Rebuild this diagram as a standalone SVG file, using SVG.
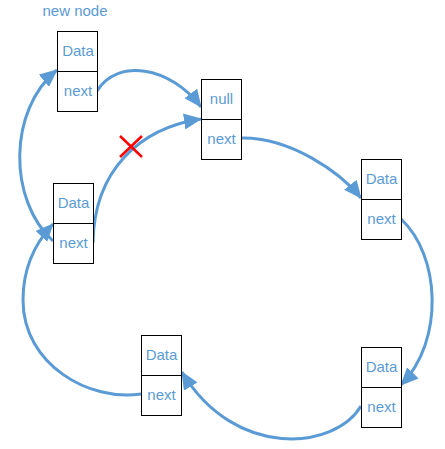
<svg xmlns="http://www.w3.org/2000/svg" width="445" height="449" viewBox="0 0 445 449">
<style>
.box{fill:#fff;stroke:#000;stroke-width:1}
.t{font-family:"Liberation Sans",Arial,sans-serif;font-size:15px;fill:#5B9BD5;text-anchor:middle}
.c{fill:none;stroke:#5B9BD5;stroke-width:3;marker-end:url(#ah)}
</style>
<defs>
<marker id="ah" markerUnits="userSpaceOnUse" markerWidth="18" markerHeight="16" viewBox="0 0 18 16" refX="17" refY="8" orient="auto">
<path d="M0,0 L18,8 L0,16 z" fill="#5B9BD5"/>
</marker>
</defs>
<rect width="445" height="449" fill="#fff"/>
<text class="t" x="75" y="16">new node</text>
<g id="connectors">
<path class="c" d="M97,91 C117,58 170,66 201,107"/>
<path class="c" d="M93,243 C94,170 140,128 201,119"/>
<path class="c" d="M241,138 C290,137 340,172 361,198"/>
<path class="c" d="M401,219 C440,255 445,340 401,385"/>
<path class="c" d="M361,406 C335,450 235,460 182,372"/>
<path class="c" d="M141,394 C90,402 23,365 23,300 C23,265 38,240 53,224"/>
<path class="c" d="M53,241 C8,200 8,110 57,70"/>
</g>
<g id="cross" stroke="#FF0000" stroke-width="2.5">
<line x1="120" y1="136" x2="142" y2="157"/>
<line x1="142" y1="136" x2="120" y2="157"/>
</g>
<g id="nodeA">
<rect class="box" x="57.5" y="31.5" width="40" height="40"/>
<rect class="box" x="57.5" y="71.5" width="40" height="40"/>
<text class="t" x="78" y="56">Data</text>
<text class="t" x="78" y="96">next</text>
</g>
<g id="nodeB">
<rect class="box" x="201.5" y="79.5" width="40" height="40"/>
<rect class="box" x="201.5" y="119.5" width="40" height="40"/>
<text class="t" x="221.5" y="104">null</text>
<text class="t" x="221.5" y="144">next</text>
</g>
<g id="nodeC">
<rect class="box" x="53.5" y="183.5" width="40" height="40"/>
<rect class="box" x="53.5" y="223.5" width="40" height="40"/>
<text class="t" x="73.5" y="208">Data</text>
<text class="t" x="73.5" y="248">next</text>
</g>
<g id="nodeD">
<rect class="box" x="361.5" y="159.5" width="40" height="40"/>
<rect class="box" x="361.5" y="199.5" width="40" height="40"/>
<text class="t" x="381.5" y="184">Data</text>
<text class="t" x="381.5" y="224">next</text>
</g>
<g id="nodeE">
<rect class="box" x="141.5" y="335.5" width="40" height="40"/>
<rect class="box" x="141.5" y="375.5" width="40" height="40"/>
<text class="t" x="161.5" y="360">Data</text>
<text class="t" x="161.5" y="400">next</text>
</g>
<g id="nodeF">
<rect class="box" x="361.5" y="347.5" width="40" height="40"/>
<rect class="box" x="361.5" y="387.5" width="40" height="40"/>
<text class="t" x="381.5" y="372">Data</text>
<text class="t" x="381.5" y="412">next</text>
</g>
</svg>
